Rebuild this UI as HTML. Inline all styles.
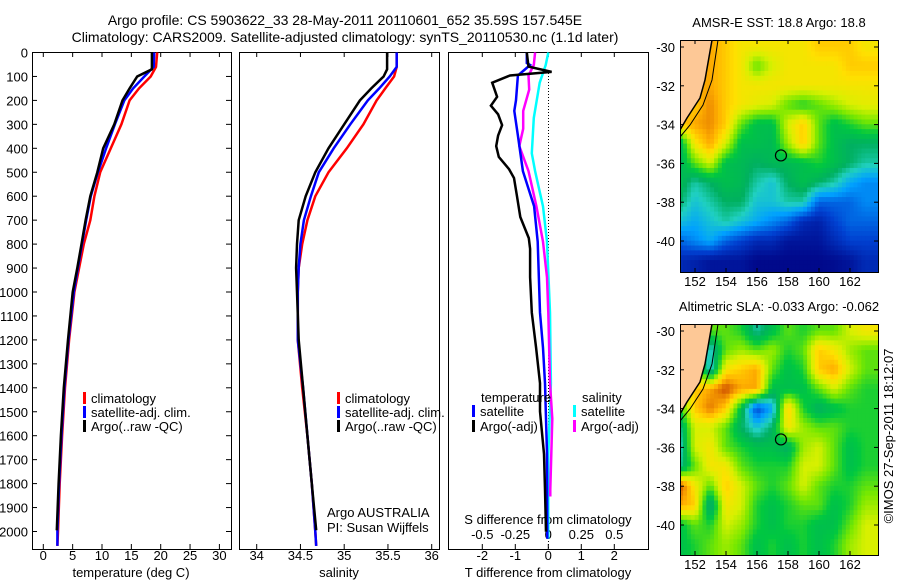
<!DOCTYPE html>
<html><head><meta charset="utf-8">
<style>
html,body{margin:0;padding:0;background:#fff;}
svg{display:block;font-family:"Liberation Sans",sans-serif;}
text{fill:#000;}
</style></head>
<body>
<svg id="c" width="900" height="580" viewBox="0 0 900 580" xmlns="http://www.w3.org/2000/svg">
<defs>
<clipPath id="cm1"><rect x="680" y="40" width="198" height="232"/></clipPath>
<clipPath id="cm2"><rect x="680" y="324" width="198" height="231"/></clipPath>
</defs>
<text x="345" y="25" font-size="14" text-anchor="middle">Argo profile: CS 5903622_33 28-May-2011 20110601_652 35.59S 157.545E</text>
<text x="345" y="42" font-size="14" text-anchor="middle">Climatology: CARS2009. Satellite-adjusted climatology: synTS_20110530.nc (1.1d later)</text>
<g id="g"></g>
</svg>
<script>
// ---------- data ----------
const climDepth = [0,60,100,150,200,300,400,500,600,700,800,900,1000,1200,1400,1600,1800,2000,2060];
const tempClim  = [19.4,19.2,18.3,16.3,14.7,13.3,11.5,9.7,8.7,8.0,6.9,6.1,5.3,4.4,3.7,3.2,2.8,2.5,2.4];
const tempSat   = [18.9,18.8,17.2,15.3,13.8,12.2,10.7,9.3,8.1,7.3,6.6,5.9,5.2,4.3,3.6,3.1,2.7,2.4,2.4];
const salClim   = [35.6,35.6,35.57,35.47,35.37,35.22,35.03,34.82,34.67,34.58,34.52,34.48,34.47,34.47,34.52,34.58,34.63,34.67,34.68];
const salSat    = [35.6,35.6,35.52,35.40,35.27,35.07,34.88,34.71,34.62,34.54,34.50,34.48,34.47,34.47,34.53,34.58,34.63,34.67,34.68];
const argoDepth = [0,70,100,150,200,300,400,500,600,700,800,900,1000,1200,1400,1600,1800,1995];
const tempArgo  = [18.5,18.5,16,14.7,13.5,12.1,10.2,9.2,8,7.2,6.5,5.8,5.0,4.2,3.5,3.0,2.6,2.3];
const salArgo   = [35.49,35.49,35.45,35.31,35.18,35.0,34.82,34.67,34.56,34.48,34.46,34.45,34.46,34.48,34.53,34.58,34.63,34.68];

const dTArgoDepth = [0,59,81,96,126,185,222,258,303,347,391,436,487,524,598,687,775,820,938,1086,1233,1381,1499,1676,1824,2001];
const dTArgo      = [-0.65,-0.6,0.1,-1.16,-1.7,-1.55,-1.74,-1.52,-1.4,-1.52,-1.58,-1.5,-1.19,-1.04,-0.95,-0.85,-0.59,-0.55,-0.55,-0.5,-0.37,-0.25,-0.25,-0.13,-0.1,-0.07];
const dTSatDepth  = [0,44,52,96,199,244,347,495,642,790,1086,1233,1381,1676,2030];
const dTSat       = [-0.65,-0.65,-0.55,-0.92,-0.98,-1.03,-0.92,-0.77,-0.43,-0.32,-0.25,-0.16,-0.1,-0.04,-0.03];
const dSSatDepth  = [0,52,126,273,421,495,642,790,1086,1381,1676,2030];
const dSSat       = [0,-0.02,-0.065,-0.11,-0.125,-0.1,-0.04,-0.01,0.013,0.02,0,0];
const dSArgoDepth = [0,52,96,155,244,318,391,495,642,790,938,1086,1381,1529,1824,1854];
const dSArgo      = [-0.1,-0.11,-0.15,-0.145,-0.19,-0.19,-0.22,-0.15,-0.09,-0.04,-0.01,0,0.013,0.03,0.015,0.015];

const depthTicks = [0,100,200,300,400,500,600,700,800,900,1000,1100,1200,1300,1400,1500,1600,1700,1800,1900,2000];
const tempTicks = [0,5,10,15,20,25,30];
const salTicks = [34,34.5,35,35.5,36];
const salTickLabels = ["34","34.5","35","35.5","36"];
const dTTicks = [-2,-1,0,1,2];
const dSTicks = [-0.5,-0.25,0,0.25,0.5];
const dSTickLabels = ["-0.5","-0.25","0","0.25","0.5"];
const lonTicks = [152,154,156,158,160,162];
const latTicks = [-30,-32,-34,-36,-38,-40];

// SST grid (rows lat -30..-41, cols lon 151..163), 0..1 colormap index
const sstGrid = [
[0.85,0.9,0.85,0.8,0.75,0.75,0.75,0.75,0.75,0.8,0.8,0.8,0.75],
[0.8,0.85,0.85,0.8,0.75,0.6,0.7,0.75,0.75,0.75,0.75,0.8,0.8],
[0.8,0.85,0.85,0.8,0.75,0.75,0.75,0.75,0.75,0.75,0.75,0.75,0.75],
[0.8,0.8,0.88,0.8,0.75,0.72,0.7,0.6,0.55,0.6,0.65,0.7,0.72],
[0.8,0.85,0.88,0.8,0.6,0.5,0.5,0.7,0.8,0.6,0.5,0.55,0.6],
[0.45,0.75,0.85,0.7,0.5,0.5,0.48,0.65,0.8,0.6,0.5,0.45,0.45],
[0.45,0.6,0.7,0.5,0.48,0.45,0.48,0.48,0.5,0.55,0.5,0.45,0.4],
[0.5,0.4,0.45,0.5,0.48,0.4,0.35,0.45,0.5,0.45,0.4,0.3,0.25],
[0.45,0.35,0.4,0.45,0.45,0.35,0.35,0.4,0.4,0.2,0.2,0.2,0.25],
[0.35,0.3,0.35,0.4,0.35,0.3,0.25,0.2,0.1,0.08,0.15,0.2,0.2],
[0.2,0.25,0.3,0.2,0.15,0.1,0.1,0.05,0.05,0.05,0.1,0.15,0.15],
[0.1,0.08,0.05,0.05,0.05,0.02,0.02,0.02,0.02,0.02,0.03,0.05,0.1]];
const slaGrid = [
[0.75,0.75,0.6,0.6,0.55,0.4,0.5,0.6,0.55,0.6,0.6,0.7,0.75],
[0.7,0.6,0.35,0.6,0.65,0.6,0.65,0.55,0.6,0.8,0.75,0.65,0.6],
[0.7,0.7,0.35,0.75,0.8,0.85,0.6,0.5,0.55,0.8,0.85,0.7,0.6],
[0.65,0.8,0.85,0.95,0.85,0.85,0.5,0.5,0.5,0.6,0.7,0.6,0.55],
[0.55,0.8,0.9,0.8,0.5,0.15,0.3,0.8,0.55,0.45,0.5,0.55,0.55],
[0.4,0.7,0.7,0.6,0.45,0.35,0.45,0.75,0.65,0.6,0.6,0.55,0.55],
[0.35,0.7,0.75,0.6,0.55,0.5,0.5,0.45,0.65,0.7,0.6,0.5,0.55],
[0.4,0.6,0.75,0.75,0.6,0.55,0.55,0.55,0.7,0.7,0.6,0.5,0.55],
[0.95,0.75,0.6,0.8,0.7,0.6,0.55,0.6,0.7,0.6,0.55,0.55,0.6],
[0.85,0.8,0.4,0.75,0.7,0.55,0.5,0.55,0.6,0.6,0.5,0.55,0.65],
[0.5,0.6,0.55,0.7,0.65,0.55,0.5,0.55,0.55,0.5,0.5,0.6,0.7],
[0.5,0.55,0.6,0.65,0.6,0.5,0.55,0.5,0.55,0.5,0.55,0.65,0.7]];
const gridLon0 = 151, gridLat0 = -30;
const argoLon = 157.545, argoLat = -35.59;

// ---------- helpers ----------
const NS="http://www.w3.org/2000/svg";
const G=document.getElementById('g');
function el(tag,attrs,parent){const e=document.createElementNS(NS,tag);for(const k in attrs)e.setAttribute(k,attrs[k]);(parent||G).appendChild(e);return e;}
const yD = d => 52.5 + d*0.2395;
const P1={x0:32,x1:231}, P2={x0:239,x1:439}, P3={x0:448,x1:648};
const yTop=52, yBot=549;
const xT = v => 43.3 + v*5.87;
const xS = v => 256.7 + (v-34)*87.5;
const xdT = v => 548.3 + v*33;
const xdS = v => 548.3 + v*132;

function line(depths, vals, xf, color, name, w){
  const pts = depths.map((d,i)=>xf(vals[i]).toFixed(1)+','+yD(d).toFixed(1)).join(' ');
  const p = el('polyline',{points:pts,fill:'none',stroke:color,'stroke-width':w||2.5,'stroke-linejoin':'miter'});
  
  
}
function txt(x,y,s,size,anchor,name,extra){
  const t=el('text',Object.assign({x:x,y:y,'font-size':size,'text-anchor':anchor||'start'},extra||{}));
  t.textContent=s;
  
  
  return t;
}
function box(P,name,y0,y1){
  const r=el('rect',{x:P.x0+0.5,y:y0+0.5,width:P.x1-P.x0,height:y1-y0,fill:'none',stroke:'#000','stroke-width':1});
  
  
}
function xTicks(P,ticks,xf,labels,ly,name){
  ticks.forEach((v,i)=>{
    const x=xf(v);
    el('line',{x1:x,x2:x,y1:yBot,y2:yBot-5,stroke:'#000'});
    el('line',{x1:x,x2:x,y1:yTop,y2:yTop+5,stroke:'#000'});
    txt(x,ly,labels?labels[i]:String(v),13,'middle',name);
  });
}
function legendItem(x,y,color,label,name){
  const m=el('rect',{x:x,y:y-11,width:3,height:12,fill:color});
  
  
  txt(x+8,y,label,13,'start',name);
}

// ---------- panel 1: temperature ----------
box(P1,'temperature-panel',yTop,yBot);
depthTicks.forEach(d=>{
  const y=yD(d);
  el('line',{x1:P1.x0,x2:P1.x0+5,y1:y,y2:y,stroke:'#000'});
  el('line',{x1:P1.x1,x2:P1.x1-5,y1:y,y2:y,stroke:'#000'});
  txt(28,y+5,String(d),13,'end','depth-tick-label');
});
xTicks(P1,tempTicks,xT,null,560,'temperature-tick-label');
txt(131,577,'temperature (deg C)',13,'middle','temperature-axis-title');
line(climDepth,tempClim,xT,'#ff0000','temp-climatology-line');
line(climDepth,tempSat,xT,'#0000ff','temp-satellite-line');
line(argoDepth,tempArgo,xT,'#000000','temp-argo-line');
legendItem(83,403,'#ff0000','climatology','legend-climatology');
legendItem(83,417,'#0000ff','satellite-adj. clim.','legend-satellite-adj');
legendItem(83,431,'#000000','Argo(..raw -QC)','legend-argo');

// ---------- panel 2: salinity ----------
box(P2,'salinity-panel',yTop,yBot);
xTicks(P2,salTicks,xS,salTickLabels,560,'salinity-tick-label');
txt(339,577,'salinity',13,'middle','salinity-axis-title');
line(climDepth,salClim,xS,'#ff0000','sal-climatology-line');
line(climDepth,salSat,xS,'#0000ff','sal-satellite-line');
line(argoDepth,salArgo,xS,'#000000','sal-argo-line');
legendItem(337,403,'#ff0000','climatology','legend2-climatology');
legendItem(337,417,'#0000ff','satellite-adj. clim.','legend2-satellite-adj');
legendItem(337,431,'#000000','Argo(..raw -QC)','legend2-argo');
txt(327,517,'Argo AUSTRALIA',13,'start','argo-australia-label');
txt(327,532,'PI: Susan Wijffels',13,'start','pi-label');

// ---------- panel 3: differences ----------
box(P3,'difference-panel',yTop,yBot);
const zl=el('line',{x1:548.5,x2:548.5,y1:70,y2:yBot,stroke:'#000','stroke-dasharray':'1,2'});


xTicks(P3,dTTicks,xdT,null,560,'tdiff-tick-label');
dSTicks.forEach((v,i)=>txt(xdS(v),539,dSTickLabels[i],13,'middle','sdiff-tick-label'));
txt(548,524,'S difference from climatology',13,'middle','sdiff-axis-title');
txt(548,577,'T difference from climatology',13,'middle','tdiff-axis-title');
line(dSSatDepth,dSSat,xdS,'#00ffff','sdiff-satellite-line');
line(dSArgoDepth,dSArgo,xdS,'#ff00ff','sdiff-argo-line');
line(dTSatDepth,dTSat,xdT,'#0000ff','tdiff-satellite-line');
line(dTArgoDepth,dTArgo,xdT,'#000000','tdiff-argo-line');
txt(481,402,'temperature',13,'start','legend3-temperature-header');
txt(582,402,'salinity',13,'start','legend3-salinity-header');
legendItem(472,416,'#0000ff','satellite','legend3-temp-satellite');
legendItem(472,431,'#000000','Argo(-adj)','legend3-temp-argo');
legendItem(573,416,'#00ffff','satellite','legend3-sal-satellite');
legendItem(573,431,'#ff00ff','Argo(-adj)','legend3-sal-argo');

// ---------- maps ----------
const stops=[[0,[0,0,128]],[0.15,[0,64,208]],[0.28,[0,160,255]],[0.38,[32,208,192]],[0.45,[0,176,96]],[0.53,[0,200,64]],[0.62,[120,232,0]],[0.7,[216,240,0]],[0.77,[255,224,0]],[0.84,[255,176,0]],[0.91,[224,112,0]],[1,[160,16,0]]];
function cmap(v){
  for(let i=1;i<stops.length;i++){ if(v<=stops[i][0]){const a=stops[i-1],b=stops[i];const t=(v-a[0])/(b[0]-a[0]);
    return 'rgb('+a[1].map((c,k)=>Math.round(c+(b[1][k]-c)*t)).join(',')+')';}}
  return 'rgb(160,16,0)';
}
function sample(grid,r,c){
  const nr=grid.length, nc=grid[0].length;
  r=Math.min(nr-1,Math.max(0,r)); c=Math.min(nc-1,Math.max(0,c));
  const r0=Math.floor(r), c0=Math.floor(c), r1=Math.min(nr-1,r0+1), c1=Math.min(nc-1,c0+1);
  const fr=r-r0, fc=c-c0;
  return (grid[r0][c0]*(1-fc)+grid[r0][c1]*fc)*(1-fr)+(grid[r1][c0]*(1-fc)+grid[r1][c1]*fc)*fr;
}
function drawMap(grid,top,clip,name,title){
  const bx=680, bw=198, bh=(clip==='cm1'?232:231);
  const lonX = lon => 695 + (lon-152)*15.5;
  const latY = lat => top + 7 + (-30-lat)*19.4;
  const outer=el('g',{'clip-path':'url(#'+clip+')'});
  
  
  const nr=grid.length, nc=grid[0].length, S=4;
  for(let r=-1*S;r<(nr+1)*S;r++)for(let c=-1*S;c<(nc+1)*S;c++){
    const rr=(r+0.5)/S-0.5, cc=(c+0.5)/S-0.5;
    const v=sample(grid,rr,cc);
    const xc=lonX(gridLon0+cc), yc=latY(gridLat0-rr);
    const w=15.5/S, h=19.4/S;
    const cell=el('rect',{x:(xc-w/2-0.3).toFixed(2),y:(yc-h/2-0.3).toFixed(2),width:(w+0.6).toFixed(2),height:(h+0.6).toFixed(2),fill:cmap(v)},outer);
    
    
  }
  const land=el('polygon',{points:`680,${top} 712,${top} 705,${top+40} 700,${top+58} 687,${top+78} 680,${top+90}`,fill:'#fdc896'},outer);
  
  
  el('polyline',{points:`712,${top} 705,${top+40} 700,${top+58} 687,${top+78} 680,${top+90}`,fill:'none',stroke:'#000','stroke-width':1.5},outer);
  el('polyline',{points:`718,${top} 712,${top+40} 703,${top+65} 690,${top+85} 680,${top+97}`,fill:'none',stroke:'#000','stroke-width':1},outer);
  const br=el('rect',{x:bx+0.5,y:top+0.5,width:bw,height:bh,fill:'none',stroke:'#000'});
  
  
  lonTicks.forEach(l=>{const x=lonX(l);
    el('line',{x1:x,x2:x,y1:top+bh,y2:top+bh-4,stroke:'#000'});
    el('line',{x1:x,x2:x,y1:top,y2:top+4,stroke:'#000'});
    txt(x,top+bh+14,String(l),13,'middle',name+'-lon-label');});
  latTicks.forEach(l=>{const y=latY(l);
    el('line',{x1:bx,x2:bx+4,y1:y,y2:y,stroke:'#000'});
    el('line',{x1:bx+bw,x2:bx+bw-4,y1:y,y2:y,stroke:'#000'});
    txt(675,y+5,String(l),13,'end',name+'-lat-label');});
  const ci=el('circle',{cx:lonX(argoLon),cy:latY(argoLat),r:5.5,fill:'none',stroke:'#000','stroke-width':1.2});
  
  
  txt(779,top-13,title,13,'middle',name+'-title');
}
drawMap(sstGrid,40,'cm1','sst-map','AMSR-E SST: 18.8 Argo: 18.8');
drawMap(slaGrid,324,'cm2','sla-map','Altimetric SLA: -0.033 Argo: -0.062');
txt(0,0,'©IMOS 27-Sep-2011 18:12:07',13,'middle','timestamp-label',{transform:'translate(893,436) rotate(-90)'});
</script>
</body></html>
